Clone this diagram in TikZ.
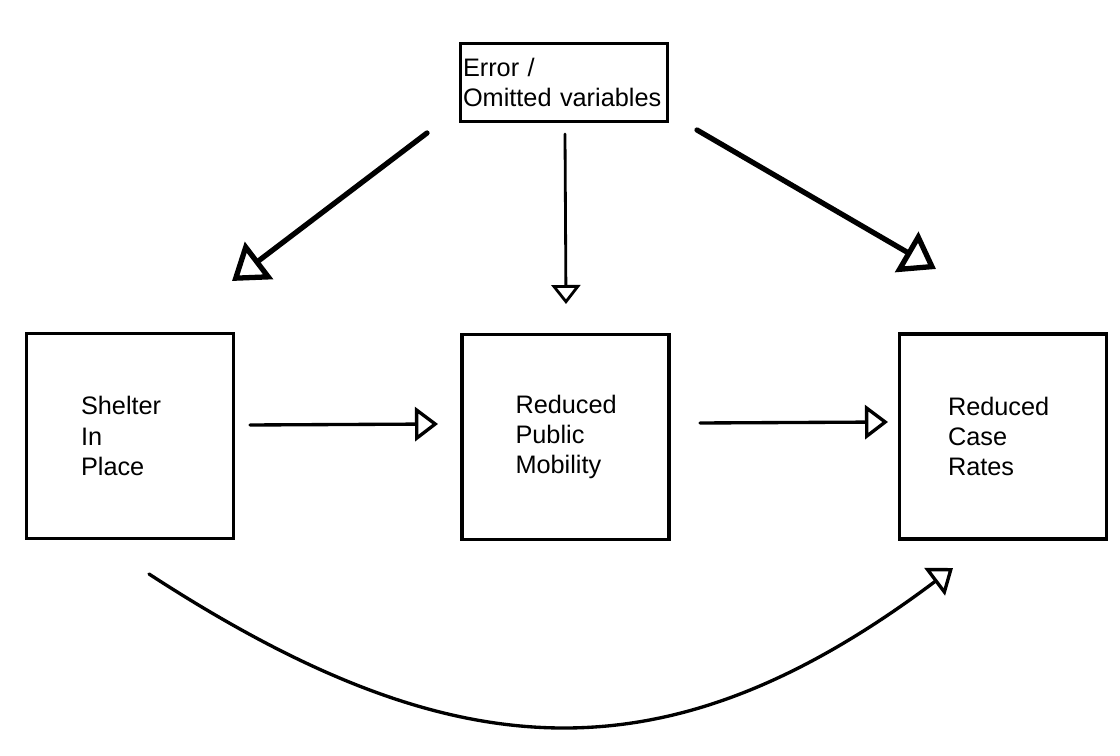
\documentclass[tikz,border=0pt]{standalone}
\usepackage{fontspec}
\setmainfont{Liberation Sans}
\usetikzlibrary{arrows.meta}

\begin{document}
\begin{tikzpicture}[x=0.02cm,y=-0.02cm,
every node/.style={font=\fontsize{14.4pt}{17.1pt}\selectfont},
varbox/.style={draw,line width=1.8pt,rectangle,minimum width=4.14cm,minimum height=4.1cm,
  text width=2cm,align=left,inner sep=0pt},
thin arrow/.style={line width=1.9pt,line cap=round,
  -{Triangle[open,length=0.46cm,width=0.68cm,line width=1.9pt]}},
thick arrow/.style={line width=3pt,line cap=round,
  -{Triangle[open,length=0.68cm,width=0.92cm,line width=3pt]}}]
\useasboundingbox (0,0) rectangle (1120,756);

% error term
\node (err) [draw,line width=2pt,rectangle,minimum width=4.14cm,minimum height=1.56cm,
  text width=4.04cm,align=left,inner xsep=0.05cm] at (564,82.5) {Error /\\Omitted variables};

% the three variables
\node (sip) [varbox,text width=1.96cm] at (130,436) {Shelter\\In\\Place};
\node (rpm) [varbox] at (565.5,437) {Reduced\\Public\\Mobility};
\node (rcr) [varbox,text width=2.2cm] at (1003,436.5) {Reduced\\Case\\Rates};

% free ends of the connectors
\coordinate (e1s) at (427,133);
\coordinate (e1t) at (232,281);
\coordinate (e2s) at (565,134);
\coordinate (e2t) at (566,304);
\coordinate (e3s) at (697,130);
\coordinate (e3t) at (936,269);
\coordinate (h1s) at (250,425);
\coordinate (h1t) at (438,424);
\coordinate (h2s) at (700,423);
\coordinate (h2t) at (888,422);
\coordinate (cs) at (149,574);
\coordinate (ct) at (953,568);

\draw [thick arrow] (e1s) -- (e1t);
\draw [thin arrow,line width=1.6pt,-{Triangle[open,length=0.38cm,width=0.58cm,line width=1.6pt]}] (e2s) -- (e2t);
\draw [thick arrow] (e3s) -- (e3t);
\draw [thin arrow] (h1s) -- (h1t);
\draw [thin arrow] (h2s) -- (h2t);
\draw [thin arrow] (cs) .. controls (452,771) and (664,785) .. (ct);
\end{tikzpicture}
\end{document}
